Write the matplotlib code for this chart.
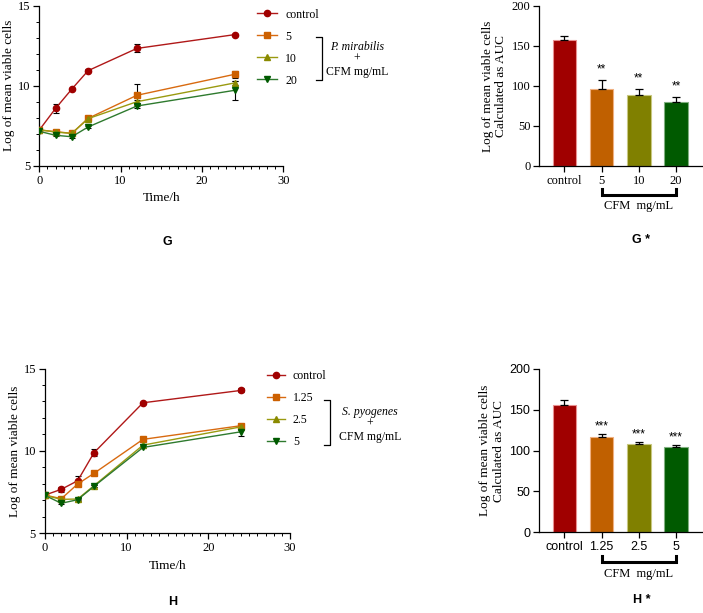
import matplotlib
matplotlib.use("Agg")
import matplotlib.pyplot as plt
import matplotlib.transforms as mtransforms
from matplotlib.ticker import MultipleLocator
import numpy as np

W, H = 703, 613

# ---------------- data ----------------
time_h = [0, 2, 4, 6, 12, 24]

# Panel G (P. mirabilis)
g_labels = ["control", "5", "10", "20"]
g_control = [7.23, 8.58, 9.79, 10.94, 12.33, 13.19]
g_control_err = [0.05, 0.30, 0.08, 0.08, 0.25, 0.06]
g_5 = [7.23, 7.13, 7.02, 7.96, 9.40, 10.71]
g_5_err = [0.05, 0.06, 0.06, 0.08, 0.70, 0.20]
g_10 = [7.25, 7.10, 7.02, 7.94, 9.00, 10.17]
g_10_err = [0.05, 0.05, 0.05, 0.06, 0.10, 0.10]
g_20 = [7.15, 6.90, 6.81, 7.42, 8.73, 9.71]
g_20_err = [0.05, 0.05, 0.05, 0.06, 0.10, 0.60]

g_auc = [157, 95.6, 89, 80.2]
g_auc_err = [5.4, 11.7, 7.0, 6.2]
g_sig = ["", "**", "**", "**"]

# Panel H (S. pyogenes)
h_labels = ["control", "1.25", "2.5", "5"]
h_control = [7.32, 7.67, 8.19, 9.89, 12.92, 13.67]
h_control_err = [0.05, 0.15, 0.30, 0.20, 0.06, 0.12]
h_125 = [7.32, 7.10, 7.99, 8.64, 10.70, 11.53]
h_125_err = [0.05, 0.06, 0.10, 0.06, 0.06, 0.10]
h_25 = [7.30, 7.06, 7.08, 7.89, 10.35, 11.46]
h_25_err = [0.05, 0.05, 0.05, 0.06, 0.06, 0.10]
h_5 = [7.30, 6.82, 7.04, 7.85, 10.21, 11.16]
h_5_err = [0.05, 0.05, 0.05, 0.06, 0.06, 0.25]

h_auc = [156, 116.9, 108.4, 104.7]
h_auc_err = [5.3, 2.9, 1.6, 2.0]
h_sig = ["", "***", "***", "***"]

# ---------------- style ----------------
line_colors = ["#B01818", "#D86A10", "#9A9A10", "#2E7A2E"]
marker_colors = ["#A00000", "#CC6000", "#8A8A00", "#005A00"]
markers = ["o", "s", "^", "v"]
bar_colors = ["#A00000", "#C06000", "#808000", "#005A00"]
bar_edges = ["#E89090", "#F0B080", "#C8C880", "#80B080"]

SERIF = "Liberation Serif"
SANS = "Liberation Sans"

fig = plt.figure(figsize=(W / 100, H / 100), dpi=100)


def ax_rect(x0, y0, x1, y1):
    return [x0 / W, 1 - y1 / H, (x1 - x0) / W, (y1 - y0) / H]


def ftext(x, y, s, **kw):
    fig.text(x / W, 1 - y / H, s, **kw)


def line_panel(rect, series, errs, labels, leg_x, leg_y, handlelen):
    ax = fig.add_axes(rect)
    handles = []
    for i, (vals, err) in enumerate(zip(series, errs)):
        ax.errorbar(time_h, vals, yerr=err, fmt="none", ecolor="black",
                    elinewidth=0.8, capsize=2, capthick=0.8, zorder=3)
        h, = ax.plot(time_h, vals, color=line_colors[i], lw=1.0,
                     marker=markers[i], markersize=4.5,
                     markerfacecolor=marker_colors[i],
                     markeredgecolor=marker_colors[i], zorder=4)
        handles.append(h)
    ax.set_xlim(0, 30)
    ax.set_ylim(5, 15)
    ax.xaxis.set_major_locator(MultipleLocator(10))
    ax.xaxis.set_minor_locator(MultipleLocator(1))
    ax.yaxis.set_major_locator(MultipleLocator(5))
    ax.yaxis.set_minor_locator(MultipleLocator(1))
    for s in ["top", "right"]:
        ax.spines[s].set_visible(False)
    for s in ["left", "bottom"]:
        ax.spines[s].set_linewidth(0.9)
    ax.tick_params(which="major", length=4, width=0.9, labelsize=9, pad=2.5)
    ax.tick_params(which="minor", length=2.2, width=0.7)
    for lab in ax.get_xticklabels() + ax.get_yticklabels():
        lab.set_fontfamily(SERIF)
    ax.set_xlabel("Time/h", fontfamily=SERIF, fontsize=9.5, labelpad=4)
    ax.set_ylabel("Log of mean viable cells", fontfamily=SERIF, fontsize=9.5,
                  labelpad=2)
    fig.legend(handles, labels, loc="upper left",
               bbox_to_anchor=(leg_x / W, 1 - leg_y / H),
               frameon=False, borderpad=0, borderaxespad=0,
               handlelength=handlelen, handletextpad=0.7, labelspacing=0.85,
               prop={"family": SERIF, "size": 8.5})
    return ax


def bar_panel(rect, vals, errs, labels, sig, tickfont, star_off):
    ax = fig.add_axes(rect)
    x = np.arange(len(vals))
    ax.bar(x, vals, width=0.63, color=bar_colors, edgecolor=bar_edges,
           linewidth=0.8, zorder=2)
    ax.errorbar(x, vals, yerr=[np.zeros(len(errs)), errs], fmt="none",
                ecolor="black", elinewidth=0.9, capsize=3, capthick=0.9,
                zorder=3)
    for xi, v, e, s in zip(x, vals, errs, sig):
        if s:
            ax.annotate(s, (xi, v + e), xytext=(0, star_off),
                        textcoords="offset points", ha="center", va="bottom",
                        fontfamily=SANS, fontsize=8.5)
    ax.set_xlim(-0.67, 3.72)
    ax.set_ylim(0, 200)
    ax.yaxis.set_major_locator(MultipleLocator(50))
    ax.set_xticks(x)
    ax.set_xticklabels(labels)
    for s in ["top", "right"]:
        ax.spines[s].set_visible(False)
    for s in ["left", "bottom"]:
        ax.spines[s].set_linewidth(0.9)
    ax.tick_params(length=4, width=0.9, labelsize=9, pad=2.5)
    for lab in ax.get_xticklabels() + ax.get_yticklabels():
        lab.set_fontfamily(tickfont)
    ax.set_ylabel("Log of mean viable cells\nCalculated as AUC",
                  fontfamily=SERIF, fontsize=9.5, labelpad=3, linespacing=1.2)
    # bracket under treatment bars
    trans = mtransforms.blended_transform_factory(ax.transData, ax.transAxes)
    ax.plot([1, 1, 3, 3], [-0.145, -0.182, -0.182, -0.145], color="black",
            lw=2.2, transform=trans, clip_on=False, solid_joinstyle="miter")
    ax.text(2, -0.255, "CFM  mg/mL", transform=trans, ha="center", va="center",
            fontfamily=SERIF, fontsize=9)
    return ax


def side_bracket(xv, ytop, ybot, texts, xt, ys, italic_first=True):
    fig.add_artist(plt.Line2D([(xv - 6) / W, xv / W, xv / W, (xv - 6) / W],
                              [1 - ytop / H, 1 - ytop / H, 1 - ybot / H,
                               1 - ybot / H], color="black", lw=0.9))
    for i, (t, yy) in enumerate(zip(texts, ys)):
        ftext(xt, yy, t, ha="center", va="center", fontfamily=SERIF,
              fontsize=8.5, style="italic" if (i == 0 and italic_first) else "normal")


# ---------- Panel G ----------
line_panel(ax_rect(39.3, 5.7, 283.3, 165.7),
           [g_control, g_5, g_10, g_20],
           [g_control_err, g_5_err, g_10_err, g_20_err],
           g_labels, 257, 8.5, 1.7)
side_bracket(322, 37, 80, ["P. mirabilis", "+", "CFM mg/mL"], 357, [47, 59, 72])

bar_panel(ax_rect(539.3, 6, 703, 165.7), g_auc, g_auc_err, g_labels, g_sig,
          SERIF, 3)
ftext(167, 242, "G", ha="center", va="center", fontfamily=SANS,
      fontsize=9, fontweight="bold")
ftext(641, 240, "G *", ha="center", va="center", fontfamily=SANS,
      fontsize=9, fontweight="bold")

# ---------- Panel H ----------
line_panel(ax_rect(45, 368.5, 290, 533.3),
           [h_control, h_125, h_25, h_5],
           [h_control_err, h_125_err, h_25_err, h_5_err],
           h_labels, 267, 370, 1.5)
side_bracket(330, 400, 445, ["S. pyogenes", "+", "CFM mg/mL"], 370, [412, 424, 437])

bar_panel(ax_rect(539.3, 368.7, 703, 532.3), h_auc, h_auc_err, h_labels,
          h_sig, SANS, 1)
ftext(173, 602, "H", ha="center", va="center", fontfamily=SANS,
      fontsize=9, fontweight="bold")
ftext(642, 600, "H *", ha="center", va="center", fontfamily=SANS,
      fontsize=9, fontweight="bold")

fig.savefig("out.png", dpi=100)
